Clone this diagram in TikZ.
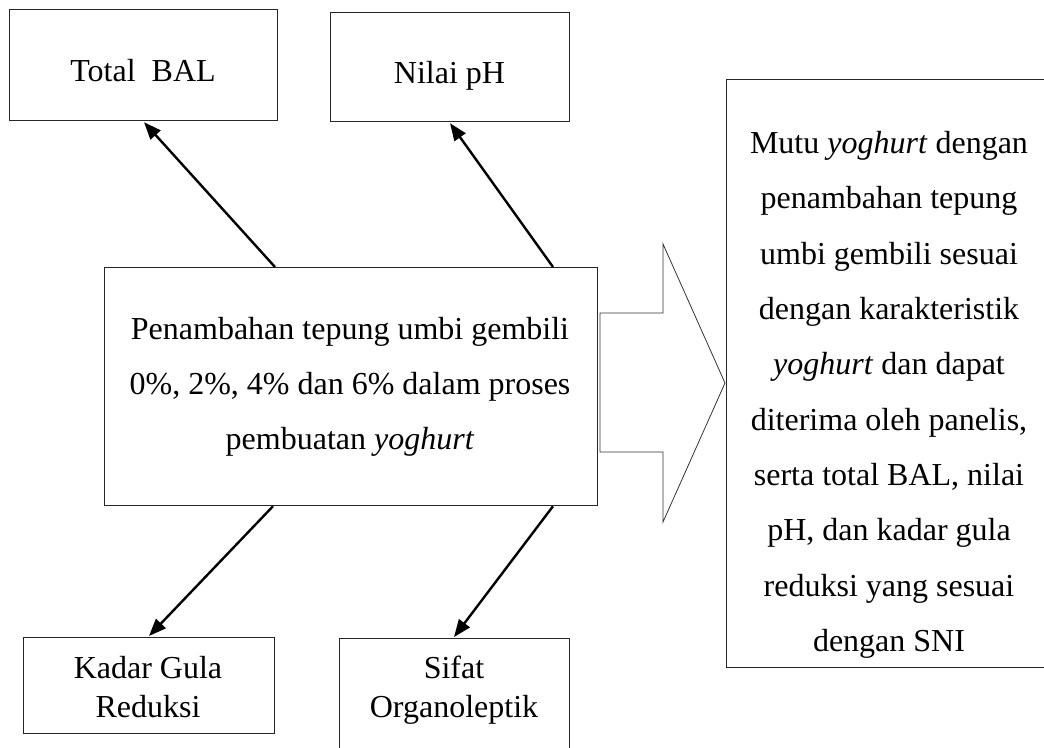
\documentclass[tikz,border=0pt]{standalone}
\usepackage{fontspec}
\setmainfont{Liberation Serif}
\usetikzlibrary{arrows.meta,calc}
\begin{document}
\begin{tikzpicture}[x=0.75pt,y=-0.75pt,
  box/.style={draw=black!85, line width=0.9pt, inner sep=0pt, anchor=north west},
  txt/.style={align=center, inner sep=0pt, font=\fontsize{24pt}{41.5pt}\selectfont},
  smalltxt/.style={align=center, inner sep=0pt, font=\fontsize{24pt}{29pt}\selectfont},
  arr/.style={line width=1.8pt, -{Triangle[length=13pt,width=10pt]}},
  block/.style={draw=black!80, line width=0.6pt, line join=miter}]
\useasboundingbox (0,0) rectangle (1044,747);
\clip (0,0) rectangle (1044,747);
% boxes
\node[box, minimum width=201pt, minimum height=83.25pt] (bal) at (9,9) {};
\node[box, minimum width=179.25pt, minimum height=81.75pt] (ph) at (330,12) {};
\node[box, minimum width=369.75pt, minimum height=178.5pt] (main) at (104,267) {};
\node[box, minimum width=188.25pt, minimum height=72pt] (kadar) at (23,637) {};
\node[box, minimum width=172.5pt, minimum height=91.5pt] (sifat) at (339,638) {};
\node[box, minimum width=250.5pt, minimum height=441pt] (out) at (726,79) {};
% texts
\node[txt] (baltxt) at (143,71) {Total\ \ BAL};
\node[txt] (phtxt) at (449.5,75.5) {Nilai pH};
\node[txt] (maintxt) at (350,387) {Penambahan tepung umbi gembili\\0\%, 2\%, 4\% dan 6\% dalam proses\\pembuatan \textit{yoghurt}};
\node[smalltxt] (kadartxt) at (148,687) {Kadar Gula\\Reduksi};
\node[smalltxt] (sifattxt) at (454,690) {Sifat\\Organoleptik};
\node[txt] (outtxt) at (889,395) {Mutu \textit{yoghurt} dengan\\penambahan tepung\\umbi gembili sesuai\\dengan karakteristik\\\textit{yoghurt} dan dapat\\diterima oleh panelis,\\serta total BAL, nilai\\pH, dan kadar gula\\reduksi yang sesuai\\dengan SNI};
% arrows
\draw[arr] ($(main.north west)+(171,0)$) -- ($(bal.south west)+(135,1)$);
\draw[arr] ($(main.north west)+(449,0)$) -- ($(ph.south west)+(120,1)$);
\draw[arr] ($(main.south west)+(169,0)$) -- ($(kadar.north west)+(126,-1)$);
\draw[arr] ($(main.south west)+(449,0)$) -- ($(sifat.north west)+(115,-1)$);
% block arrow
\draw[block] (600,313) -- (663,313) -- (663,244) -- (725,383) -- (663,522) -- (663,452) -- (600,452) -- cycle;
\end{tikzpicture}
\end{document}
